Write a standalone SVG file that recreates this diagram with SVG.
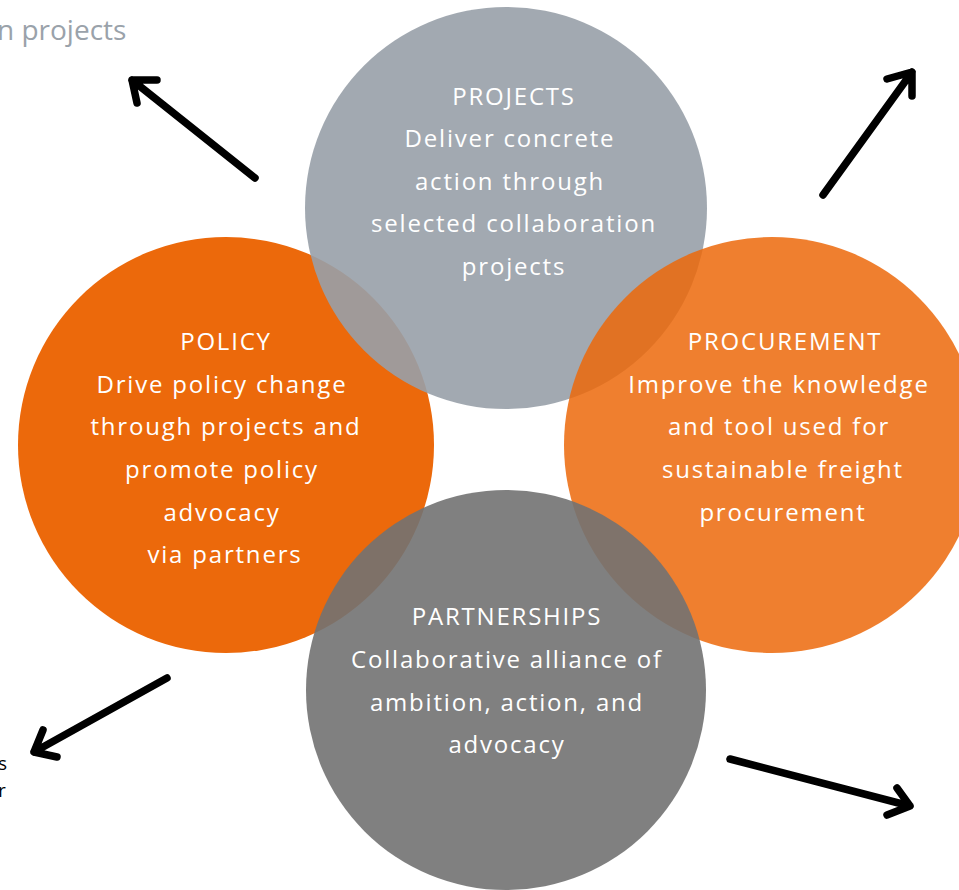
<svg xmlns="http://www.w3.org/2000/svg" width="959" height="890" viewBox="0 0 959 890">
<style>
.lbl{font-family:"Open Sans","Noto Sans",sans-serif;font-size:24px;fill:#ffffff;text-anchor:middle;letter-spacing:1.8px}
.arr{fill:none;stroke:#000000;stroke-width:7.5;stroke-linecap:round;stroke-linejoin:round}
.side{font-family:"Open Sans","Noto Sans",sans-serif;font-size:19px;fill:#000000}
</style>
<rect width="959" height="890" fill="#ffffff"/>
<text x="-3" y="40" style="font-family:'Open Sans','Noto Sans',sans-serif;font-size:28px;fill:#9aa2aa">n projects</text>
<text class="side" x="-2" y="770">s</text>
<text class="side" x="-2" y="797">r</text>
<g id="policy">
<circle cx="226" cy="445" r="208" fill="#ec690b"/>
</g>
<g id="projects">
<circle cx="506" cy="208" r="201" fill="#98a0a8" fill-opacity="0.9"/>
</g>
<g id="procurement">
<circle cx="772" cy="445" r="208" fill="#ec690b" fill-opacity="0.85"/>
</g>
<g id="partnerships">
<circle cx="506" cy="690" r="200" fill="#727272" fill-opacity="0.9"/>
</g>
<g id="labels">
<text class="lbl" x="514" y="105">PROJECTS</text>
<text class="lbl" x="510" y="147">Deliver concrete</text>
<text class="lbl" x="510" y="190">action through</text>
<text class="lbl" x="514" y="232">selected collaboration</text>
<text class="lbl" x="514" y="275">projects</text>
<text class="lbl" x="226" y="350">POLICY</text>
<text class="lbl" x="222" y="393">Drive policy change</text>
<text class="lbl" x="226" y="435">through projects and</text>
<text class="lbl" x="222" y="478">promote policy</text>
<text class="lbl" x="222" y="521">advocacy</text>
<text class="lbl" x="225" y="563">via partners</text>
<text class="lbl" x="785" y="350">PROCUREMENT</text>
<text class="lbl" x="779" y="393">Improve the knowledge</text>
<text class="lbl" x="779" y="435">and tool used for</text>
<text class="lbl" x="783" y="478">sustainable freight</text>
<text class="lbl" x="783" y="521">procurement</text>
<text class="lbl" x="507" y="625">PARTNERSHIPS</text>
<text class="lbl" x="507" y="668">Collaborative alliance of</text>
<text class="lbl" x="507" y="711">ambition, action, and</text>
<text class="lbl" x="507" y="753">advocacy</text>
</g>
<g id="connectors">
<path class="arr" d="M255,178 L132,80 M157,80 L132,80 L137,103"/>
<path class="arr" d="M823,195 L912,72 M887,79 L912,72 L912,96"/>
<path class="arr" d="M167,678 L34,752 M43,730 L34,752 L57,757"/>
<path class="arr" d="M730,759 L910,806 M897,788 L910,806 L887,815"/>
</g>
</svg>
